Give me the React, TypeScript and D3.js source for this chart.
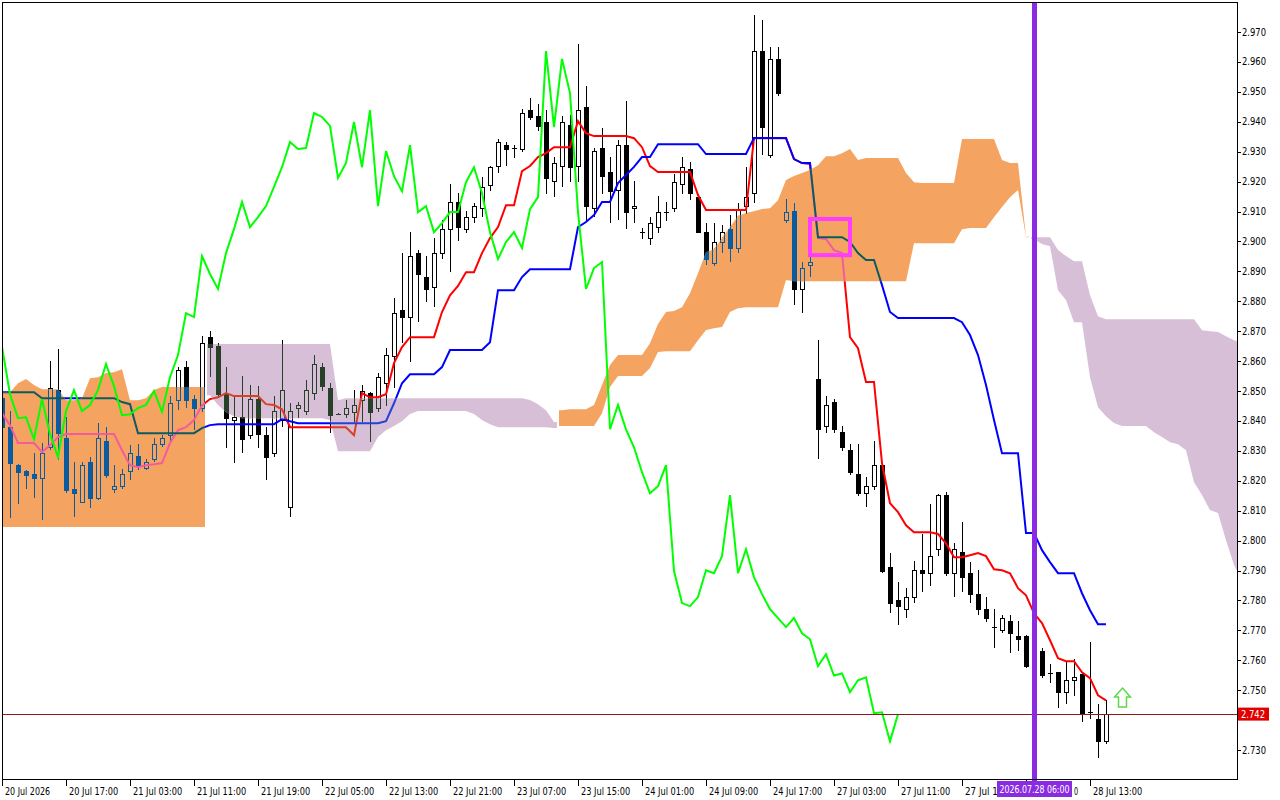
import React from 'react';
import * as d3 from 'd3';

// H1 candles
const opens = [
  2.8476, 2.8379, 2.8252, 2.8232, 2.8222, 2.8209, 2.8312, 2.8503, 2.8342, 2.8172,
  2.8128, 2.8262, 2.8142, 2.8332, 2.8172, 2.8182, 2.8232, 2.8282, 2.8242, 2.8272,
  2.8322, 2.8352, 2.8469, 2.8579, 2.8473, 2.8443, 2.8680, 2.8650, 2.8489, 2.8402,
  2.8412, 2.8352, 2.8473, 2.8352, 2.8292, 2.8402, 2.8112, 2.8443, 2.8433, 2.8493,
  2.8579, 2.8509, 2.8422, 2.8422, 2.8430, 2.8470, 2.8493, 2.8443, 2.8526, 2.8617,
  2.8770, 2.8747, 2.8961, 2.8881, 2.8847, 2.8961, 2.9041, 2.9132, 2.9041, 2.9081,
  2.9112, 2.9188, 2.9252, 2.9322, 2.9312, 2.9309, 2.9439, 2.9419, 2.9399, 2.9202,
  2.9252, 2.9389, 2.9252, 2.9449, 2.9112, 2.9312, 2.9232, 2.9172, 2.9322, 2.9111,
  2.9031, 2.9011, 2.9048, 2.9098, 2.9111, 2.9192, 2.9242, 2.9148, 2.9031, 2.8928,
  2.8998, 2.9041, 2.8978, 2.9118, 2.9162, 2.9636, 2.9289, 2.9610, 2.9071, 2.9101,
  2.8841, 2.8921, 2.8540, 2.8382, 2.8463, 2.8362, 2.8302, 2.8222, 2.8158, 2.8182,
  2.8252, 2.7911, 2.7801, 2.7771, 2.7811, 2.7901, 2.7891, 2.7972, 2.8152, 2.7891,
  2.7961, 2.7891, 2.7821, 2.7771, 2.7711, 2.7701, 2.7730, 2.7680, 2.7680, 2.7590,
  2.7630, 2.7556, 2.7560, 2.7493, 2.7533, 2.7553, 2.7423, 2.7403, 2.7329,
];
const highs = [
  2.8510, 2.8433, 2.8255, 2.8235, 2.8292, 2.8326, 2.8600, 2.8640, 2.8412, 2.8262,
  2.8262, 2.8279, 2.8392, 2.8379, 2.8252, 2.8239, 2.8319, 2.8322, 2.8272, 2.8342,
  2.8352, 2.8482, 2.8579, 2.8600, 2.8486, 2.8683, 2.8700, 2.8660, 2.8579, 2.8479,
  2.8550, 2.8520, 2.8516, 2.8379, 2.8482, 2.8670, 2.8460, 2.8463, 2.8536, 2.8620,
  2.8593, 2.8526, 2.8426, 2.8470, 2.8503, 2.8520, 2.8496, 2.8560, 2.8643, 2.8810,
  2.8961, 2.9031, 2.8971, 2.8951, 2.9011, 2.9071, 2.9192, 2.9162, 2.9101, 2.9128,
  2.9216, 2.9252, 2.9342, 2.9332, 2.9322, 2.9442, 2.9479, 2.9460, 2.9440, 2.9282,
  2.9420, 2.9422, 2.9660, 2.9519, 2.9312, 2.9379, 2.9282, 2.9340, 2.9469, 2.9202,
  2.9045, 2.9081, 2.9152, 2.9132, 2.9225, 2.9282, 2.9265, 2.9160, 2.9061, 2.9061,
  2.9055, 2.9088, 2.9128, 2.9248, 2.9757, 2.9740, 2.9650, 2.9650, 2.9142, 2.9128,
  2.8931, 2.8954, 2.8670, 2.8483, 2.8473, 2.8382, 2.8322, 2.8322, 2.8212, 2.8332,
  2.8260, 2.7958, 2.7861, 2.7841, 2.7931, 2.8021, 2.8122, 2.8155, 2.8162, 2.7991,
  2.8061, 2.7928, 2.7901, 2.7811, 2.7771, 2.7751, 2.7751, 2.7730, 2.7683, 2.7650,
  2.7640, 2.7587, 2.7562, 2.7593, 2.7603, 2.7556, 2.7660, 2.7453, 2.7466,
];
const lows = [
  2.8360, 2.8075, 2.8122, 2.8172, 2.8142, 2.8068, 2.8302, 2.8269, 2.8158, 2.8078,
  2.8125, 2.8108, 2.8135, 2.8209, 2.8158, 2.8172, 2.8202, 2.8235, 2.8235, 2.8262,
  2.8312, 2.8329, 2.8436, 2.8443, 2.8369, 2.8430, 2.8546, 2.8479, 2.8309, 2.8259,
  2.8292, 2.8339, 2.8309, 2.8202, 2.8280, 2.8380, 2.8078, 2.8409, 2.8420, 2.8470,
  2.8500, 2.8359, 2.8419, 2.8410, 2.8396, 2.8396, 2.8330, 2.8430, 2.8450, 2.8510,
  2.8660, 2.8597, 2.8730, 2.8797, 2.8780, 2.8940, 2.8897, 2.9000, 2.9028, 2.9060,
  2.9080, 2.9170, 2.9228, 2.9252, 2.9279, 2.9299, 2.9406, 2.9370, 2.9160, 2.9148,
  2.9182, 2.9199, 2.9200, 2.9068, 2.9081, 2.9158, 2.9061, 2.9070, 2.9041, 2.9061,
  2.9008, 2.8988, 2.9028, 2.9068, 2.9100, 2.9160, 2.9140, 2.9028, 2.8921, 2.8918,
  2.8961, 2.8931, 2.8961, 2.9090, 2.9130, 2.9289, 2.9280, 2.9486, 2.9060, 2.8787,
  2.8760, 2.8880, 2.8272, 2.8360, 2.8360, 2.8299, 2.8219, 2.8148, 2.8112, 2.8170,
  2.7890, 2.7757, 2.7717, 2.7741, 2.7791, 2.7827, 2.7848, 2.7948, 2.7880, 2.7811,
  2.7827, 2.7791, 2.7751, 2.7727, 2.7640, 2.7690, 2.7623, 2.7630, 2.7573, 2.7560,
  2.7540, 2.7523, 2.7440, 2.7453, 2.7480, 2.7393, 2.7403, 2.7273, 2.7320,
];
const closes = [
  2.8379, 2.8259, 2.8229, 2.8219, 2.8209, 2.8292, 2.8509, 2.8359, 2.8169, 2.8158,
  2.8252, 2.8142, 2.8342, 2.8219, 2.8182, 2.8222, 2.8292, 2.8249, 2.8262, 2.8322,
  2.8342, 2.8459, 2.8569, 2.8469, 2.8443, 2.8660, 2.8647, 2.8489, 2.8409, 2.8412,
  2.8339, 2.8473, 2.8356, 2.8279, 2.8433, 2.8503, 2.8433, 2.8453, 2.8503, 2.8590,
  2.8516, 2.8419, 2.8422, 2.8443, 2.8453, 2.8500, 2.8430, 2.8546, 2.8620, 2.8760,
  2.8747, 2.8951, 2.8891, 2.8841, 2.8961, 2.9041, 2.9132, 2.9048, 2.9081, 2.9118,
  2.9182, 2.9248, 2.9332, 2.9309, 2.9312, 2.9429, 2.9416, 2.9386, 2.9212, 2.9262,
  2.9399, 2.9248, 2.9439, 2.9118, 2.9302, 2.9218, 2.9168, 2.9322, 2.9098, 2.9118,
  2.9031, 2.9061, 2.9098, 2.9098, 2.9198, 2.9248, 2.9162, 2.9031, 2.8941, 2.8998,
  2.9031, 2.8978, 2.9108, 2.9148, 2.9636, 2.9382, 2.9610, 2.9496, 2.9098, 2.8841,
  2.8911, 2.8931, 2.8372, 2.8453, 2.8372, 2.8312, 2.8229, 2.8158, 2.8182, 2.8252,
  2.7898, 2.7791, 2.7781, 2.7811, 2.7901, 2.7891, 2.7948, 2.8152, 2.7891, 2.7971,
  2.7878, 2.7821, 2.7771, 2.7741, 2.7711, 2.7741, 2.7690, 2.7670, 2.7580, 2.7620,
  2.7549, 2.7556, 2.7493, 2.7533, 2.7543, 2.7423, 2.7426, 2.7329, 2.7420,
];

// Ichimoku lines
const tenkan = [
  2.8426, 2.8386, 2.8326, 2.8326, 2.8326, 2.8296, 2.8319, 2.8346, 2.8356, 2.8356,
  2.8356, 2.8356, 2.8356, 2.8356, 2.8356, 2.8302, 2.8252, 2.8245, 2.8252, 2.8255,
  2.8259, 2.8326, 2.8369, 2.8379, 2.8403, 2.8452, 2.8473, 2.8479, 2.8493, 2.8483,
  2.8483, 2.8483, 2.8483, 2.8456, 2.8453, 2.8439, 2.8379, 2.8379, 2.8379, 2.8379,
  2.8379, 2.8379, 2.8379, 2.8379, 2.8352, 2.8493, 2.8479, 2.8479, 2.8489, 2.8593,
  2.8647, 2.8680, 2.8680, 2.8680, 2.8680, 2.8764, 2.8820, 2.8851, 2.8897, 2.8897,
  2.8961, 2.9011, 2.9048, 2.9121, 2.9121, 2.9235, 2.9252, 2.9282, 2.9295, 2.9315,
  2.9315, 2.9315, 2.9402, 2.9362, 2.9352, 2.9352, 2.9352, 2.9352, 2.9352, 2.9345,
  2.9315, 2.9252, 2.9232, 2.9232, 2.9232, 2.9232, 2.9232, 2.9155, 2.9105, 2.9105,
  2.9105, 2.9105, 2.9105, 2.9105, 2.9345, 2.9345, 2.9345, 2.9345, 2.9345, 2.9275,
  2.9262, 2.9259, 2.9011, 2.9008, 2.8971, 2.8961, 2.8680, 2.8643, 2.8530, 2.8530,
  2.8259, 2.8125, 2.8095, 2.8051, 2.8028, 2.8028, 2.8028, 2.8022, 2.7991, 2.7944,
  2.7944, 2.7951, 2.7958, 2.7948, 2.7904, 2.7901, 2.7891, 2.7841, 2.7817, 2.7757,
  2.7724, 2.7667, 2.7607, 2.7597, 2.7597, 2.7560, 2.7540, 2.7483, 2.7466,
];
const kijun = [
  2.8496, 2.8496, 2.8496, 2.8496, 2.8496, 2.8476, 2.8476, 2.8476, 2.8476, 2.8476,
  2.8476, 2.8476, 2.8476, 2.8476, 2.8476, 2.8463, 2.8456, 2.8359, 2.8359, 2.8359,
  2.8359, 2.8359, 2.8359, 2.8359, 2.8359, 2.8376, 2.8386, 2.8389, 2.8389, 2.8389,
  2.8389, 2.8389, 2.8389, 2.8389, 2.8389, 2.8406, 2.8399, 2.8392, 2.8392, 2.8392,
  2.8392, 2.8392, 2.8392, 2.8392, 2.8392, 2.8392, 2.8392, 2.8392, 2.8399, 2.8459,
  2.8526, 2.8556, 2.8556, 2.8556, 2.8556, 2.8580, 2.8637, 2.8637, 2.8637, 2.8637,
  2.8637, 2.8663, 2.8837, 2.8837, 2.8837, 2.8881, 2.8907, 2.8907, 2.8907, 2.8907,
  2.8907, 2.8907, 2.9048, 2.9065, 2.9088, 2.9132, 2.9132, 2.9195, 2.9222, 2.9249,
  2.9282, 2.9282, 2.9325, 2.9325, 2.9325, 2.9325, 2.9325, 2.9325, 2.9292, 2.9292,
  2.9292, 2.9292, 2.9292, 2.9292, 2.9346, 2.9346, 2.9346, 2.9346, 2.9346, 2.9275,
  2.9262, 2.9262, 2.9014, 2.9014, 2.9014, 2.9014, 2.8998, 2.8961, 2.8938, 2.8938,
  2.8854, 2.8764, 2.8744, 2.8744, 2.8744, 2.8744, 2.8744, 2.8744, 2.8744, 2.8744,
  2.8730, 2.8687, 2.8620, 2.8520, 2.8403, 2.8292, 2.8292, 2.8292, 2.8025, 2.8025,
  2.7968, 2.7928, 2.7891, 2.7891, 2.7891, 2.7824, 2.7767, 2.7720, 2.7720,
];
// cloud, already shifted forward (one value per bar slot on screen)
const spanA = [
  2.8496, 2.8496, 2.8526, 2.8540, 2.8520, 2.8506, 2.8506, 2.8506, 2.8469, 2.8469,
  2.8476, 2.8543, 2.8546, 2.8560, 2.8563, 2.8573, 2.8469, 2.8469, 2.8476, 2.8503,
  2.8513, 2.8513, 2.8513, 2.8513, 2.8513, 2.8513, 2.8486, 2.8453, 2.8429, 2.8416,
  2.8409, 2.8409, 2.8409, 2.8409, 2.8409, 2.8409, 2.8409, 2.8409, 2.8409, 2.8409,
  2.8409, 2.8403, 2.8299, 2.8299, 2.8299, 2.8299, 2.8299, 2.8346, 2.8369, 2.8383,
  2.8399, 2.8423, 2.8433, 2.8433, 2.8433, 2.8433, 2.8433, 2.8433, 2.8433, 2.8423,
  2.8403, 2.8389, 2.8379, 2.8379, 2.8379, 2.8379, 2.8379, 2.8379, 2.8379, 2.8376,
  2.8436, 2.8439, 2.8439, 2.8439, 2.8453, 2.8520, 2.8587, 2.8620, 2.8620, 2.8620,
  2.8620, 2.8660, 2.8724, 2.8764, 2.8767, 2.8780, 2.8827, 2.8894, 2.8964, 2.8974,
  2.9011, 2.9048, 2.9085, 2.9095, 2.9101, 2.9108, 2.9111, 2.9138, 2.9205, 2.9219,
  2.9229, 2.9239, 2.9255, 2.9285, 2.9285, 2.9295, 2.9309, 2.9272, 2.9279, 2.9279,
  2.9279, 2.9279, 2.9279, 2.9229, 2.9198, 2.9195, 2.9195, 2.9195, 2.9195, 2.9195,
  2.9342, 2.9342, 2.9342, 2.9342, 2.9342, 2.9272, 2.9262, 2.9262, 2.9016, 2.9008,
  2.8991, 2.8984, 2.8837, 2.8804, 2.8730, 2.8730, 2.8546, 2.8446, 2.8416, 2.8393,
  2.8383, 2.8383, 2.8383, 2.8383, 2.8362, 2.8346, 2.8329, 2.8322, 2.8302, 2.8195,
  2.8152, 2.8102, 2.8092, 2.8001, 2.7918, 2.7867,
];
const spanB = [
  2.8045, 2.8045, 2.8045, 2.8045, 2.8045, 2.8045, 2.8045, 2.8045, 2.8045, 2.8045,
  2.8045, 2.8045, 2.8045, 2.8045, 2.8045, 2.8045, 2.8045, 2.8045, 2.8045, 2.8045,
  2.8045, 2.8045, 2.8045, 2.8045, 2.8045, 2.8045, 2.8657, 2.8657, 2.8657, 2.8657,
  2.8657, 2.8657, 2.8657, 2.8657, 2.8657, 2.8657, 2.8657, 2.8657, 2.8657, 2.8657,
  2.8657, 2.8657, 2.8469, 2.8476, 2.8476, 2.8476, 2.8476, 2.8476, 2.8476, 2.8476,
  2.8476, 2.8476, 2.8476, 2.8476, 2.8476, 2.8476, 2.8476, 2.8476, 2.8476, 2.8476,
  2.8476, 2.8476, 2.8476, 2.8476, 2.8476, 2.8476, 2.8470, 2.8456, 2.8436, 2.8396,
  2.8383, 2.8383, 2.8383, 2.8383, 2.8383, 2.8426, 2.8513, 2.8550, 2.8550, 2.8550,
  2.8550, 2.8577, 2.8630, 2.8633, 2.8633, 2.8633, 2.8633, 2.8670, 2.8704, 2.8710,
  2.8714, 2.8764, 2.8777, 2.8780, 2.8780, 2.8780, 2.8780, 2.8780, 2.8871, 2.8867,
  2.8867, 2.8867, 2.8867, 2.8867, 2.8867, 2.8867, 2.8867, 2.8867, 2.8867, 2.8867,
  2.8867, 2.8867, 2.8867, 2.8867, 2.8994, 2.8994, 2.8994, 2.8994, 2.8994, 2.8994,
  2.9041, 2.9045, 2.9045, 2.9045, 2.9081, 2.9115, 2.9148, 2.9172, 2.9014, 2.9014,
  2.9014, 2.9014, 2.8971, 2.8951, 2.8934, 2.8934, 2.8820, 2.8750, 2.8740, 2.8740,
  2.8740, 2.8740, 2.8740, 2.8740, 2.8740, 2.8740, 2.8740, 2.8740, 2.8740, 2.8740,
  2.8703, 2.8700, 2.8697, 2.8683, 2.8670, 2.8660,
];
const chikouShift = 26;

// axis labels (one every 8 bars on the time axis)
const xLabels = [
  '20 Jul 2026', '20 Jul 17:00', '21 Jul 03:00', '21 Jul 11:00', '21 Jul 19:00',
  '22 Jul 05:00', '22 Jul 13:00', '22 Jul 21:00', '23 Jul 07:00', '23 Jul 15:00',
  '24 Jul 01:00', '24 Jul 09:00', '24 Jul 17:00', '27 Jul 03:00', '27 Jul 11:00',
  '27 Jul 19:00', '28 Jul 05:00', '28 Jul 13:00',
];
const xLabelStep = 8;
const yTicks = [2.97, 2.96, 2.95, 2.94, 2.93, 2.92, 2.91, 2.9, 2.89, 2.88, 2.87, 2.86,
  2.85, 2.84, 2.83, 2.82, 2.81, 2.8, 2.79, 2.78, 2.77, 2.76, 2.75, 2.74, 2.73];

// annotations
const lastPrice = 2.742;
const markerBar = 129;
const markerLabel = '2026.07.28 06:00';
const boxBars = [101, 106];
const boxPrices = [2.9075, 2.8954];
const arrowBar = 140;
const arrowPrice = 2.7507;

const frame = { left: 2, right: 1237, top: 2, bottom: 779 };
const font = "'DejaVu Sans Condensed', 'Liberation Sans', sans-serif";
const charW = 4.1;

// the terminal paints the cloud by inverting the pixels under it,
// so candles and lines inside it change colour
const plainInk = { ink: '#000', paper: '#fff', red: '#ff0000', blue: '#0000ff' };
const bullInk = { ink: 'rgb(11,91,159)', paper: '#f4a460', red: 'rgb(244,91,159)', blue: 'rgb(11,91,96)' };
const bearInk = { ink: 'rgb(39,64,39)', paper: '#d8bfd8', red: 'rgb(216,64,39)', blue: 'rgb(39,64,216)' };

const App = () => {
  const x = d3.scaleLinear().domain([0, 154]).range([2, 1234]);
  const y = d3.scaleLinear().domain([2.73, 2.97]).range([750, 32]);

  const line = d3.line<[number, number]>().x(d => x(d[0])).y(d => y(d[1]));
  const tenkanPath = line(tenkan.map((v, i) => [i, v])) || '';
  const kijunPath = line(kijun.map((v, i) => [i, v])) || '';
  const chikouPath = line(closes.slice(chikouShift).map((v, i) => [i, v])) || '';

  // split the cloud into runs of one colour
  const runs: { bull: boolean; idx: number[] }[] = [];
  spanA.forEach((a, j) => {
    const bull = a >= spanB[j];
    const last = runs[runs.length - 1];
    if (last && last.bull === bull) last.idx.push(j);
    else runs.push({ bull, idx: [j] });
  });
  const area = d3.area<{ px: number; a: number; b: number }>()
    .x(d => d.px).y0(d => y(d.a)).y1(d => y(d.b));
  const cloudPaths = runs.map(r => {
    const first = r.idx[0];
    const last = r.idx[r.idx.length - 1];
    const pts = [
      { px: x(first) - 3, a: spanA[first], b: spanB[first] },
      ...r.idx.map(j => ({ px: x(j), a: spanA[j], b: spanB[j] })),
      { px: x(last) + 3, a: spanA[last], b: spanB[last] },
    ];
    return { bull: r.bull, d: area(pts) || '' };
  });

  const drawLayer = (pal: typeof plainInk) => (
    <>
      <g shapeRendering="crispEdges">
        {opens.map((o, i) => {
          const c = closes[i];
          const cx = Math.round(x(i));
          const top = y(Math.max(o, c));
          const bot = y(Math.min(o, c));
          const bull = c > o;
          return (
            <g key={i}>
              <line x1={cx + 0.5} x2={cx + 0.5} y1={y(highs[i])} y2={y(lows[i])} stroke={pal.ink} />
              {bot - top < 1.5 ? (
                <line x1={cx - 2} x2={cx + 3} y1={Math.round(top) + 0.5} y2={Math.round(top) + 0.5} stroke={pal.ink} />
              ) : (
                <rect x={cx - 1.5} y={Math.round(top) + 0.5} width={4} height={Math.round(bot - top)}
                  fill={bull ? pal.paper : pal.ink} stroke={pal.ink} />
              )}
            </g>
          );
        })}
      </g>
      <path d={tenkanPath} fill="none" stroke={pal.red} strokeWidth={2} />
      <path d={kijunPath} fill="none" stroke={pal.blue} strokeWidth={2} />
    </>
  );

  const ax = x(arrowBar) + 0.5;
  const ay = y(arrowPrice);
  const arrow = `M${ax},${ay} L${ax + 8},${ay + 9} L${ax + 4},${ay + 9} L${ax + 4},${ay + 19} L${ax - 4},${ay + 19} L${ax - 4},${ay + 9} L${ax - 8},${ay + 9} Z`;
  const mx = x(markerBar);
  const markerW = 75;
  const markerL = mx - 37;
  const markerR = markerL + markerW;

  // time labels: the part hidden under the marker label is cut away
  const timeLabels = xLabels.map((lab, k) => {
    const tx = Math.round(x(k * xLabelStep));
    const start = tx + 3;
    const end = start + lab.length * charW;
    let text = lab;
    let tx0 = start;
    if (start < markerL && end > markerL) {
      text = lab.slice(0, Math.floor((markerL - start + 1) / charW));
    } else if (start >= markerL && start < markerR) {
      const from = Math.ceil((markerR - start) / charW);
      text = lab.slice(from);
      tx0 = start + from * charW;
    }
    return { tx, text, tx0 };
  });

  return (
    <svg width={1280} height={800} style={{ position: 'absolute', left: 0, top: 0 }}>
      <defs>
        <clipPath id="plot">
          <rect x={frame.left} y={frame.top} width={frame.right - frame.left} height={frame.bottom - frame.top} />
        </clipPath>
        <clipPath id="cloudBull">
          {cloudPaths.filter(p => p.bull).map((p, k) => <path key={k} d={p.d} />)}
        </clipPath>
        <clipPath id="cloudBear">
          {cloudPaths.filter(p => !p.bull).map((p, k) => <path key={k} d={p.d} />)}
        </clipPath>
      </defs>
      <rect width={1280} height={800} fill="#fff" />

      <g clipPath="url(#plot)">
        {drawLayer(plainInk)}

        {cloudPaths.map((p, k) => (
          <path key={k} d={p.d} fill={p.bull ? bullInk.paper : bearInk.paper} />
        ))}
        <g clipPath="url(#cloudBull)">{drawLayer(bullInk)}</g>
        <g clipPath="url(#cloudBear)">{drawLayer(bearInk)}</g>

        <path d={chikouPath} fill="none" stroke="#00ff00" strokeWidth={2} />

        <line x1={frame.left} x2={frame.right} y1={Math.round(y(lastPrice)) + 0.5} y2={Math.round(y(lastPrice)) + 0.5}
          stroke="#8c1a1a" strokeWidth={1} />

        <rect x={x(boxBars[0])} y={y(boxPrices[0])} width={x(boxBars[1]) - x(boxBars[0])}
          height={y(boxPrices[1]) - y(boxPrices[0])} fill="none" stroke="#ff3cff" strokeWidth={4} />

        <path d={arrow} fill="#fff" stroke="#5cd84a" strokeWidth={1.5} />
      </g>

      <line x1={mx + 0.5} x2={mx + 0.5} y1={frame.top} y2={frame.bottom + 3} stroke="#8a2be2" strokeWidth={5} />

      {/* frame */}
      <rect x={frame.left + 0.5} y={frame.top + 0.5} width={frame.right - frame.left} height={frame.bottom - frame.top}
        fill="none" stroke="#000" shapeRendering="crispEdges" />

      {/* price axis */}
      <g fontFamily={font} fontSize={10} fill="#000">
        {yTicks.filter(t => Math.abs(t - lastPrice) > 0.004).map(t => (
          <g key={t}>
            <line x1={frame.right} x2={frame.right + 4} y1={Math.round(y(t)) + 0.5} y2={Math.round(y(t)) + 0.5}
              stroke="#000" shapeRendering="crispEdges" />
            <text x={frame.right + 5} y={y(t) + 3.5} textLength={24} lengthAdjust="spacingAndGlyphs">{t.toFixed(3)}</text>
          </g>
        ))}
      </g>
      <rect x={frame.right + 1} y={y(lastPrice) - 6.5} width={31} height={13} fill="#e00000" />
      <text x={frame.right + 4} y={y(lastPrice) + 3.5} fontFamily={font} fontSize={10} fill="#fff"
        textLength={24} lengthAdjust="spacingAndGlyphs">{lastPrice.toFixed(3)}</text>

      {/* time axis */}
      <g fontFamily={font} fontSize={10} fill="#000">
        {timeLabels.map((t, k) => (
          <g key={k}>
            <line x1={t.tx + 0.5} x2={t.tx + 0.5} y1={frame.bottom} y2={frame.bottom + 7} stroke="#000" shapeRendering="crispEdges" />
            {t.text.length > 0 && (
              <text x={t.tx0} y={frame.bottom + 16} textLength={t.text.length * charW} lengthAdjust="spacingAndGlyphs">{t.text}</text>
            )}
          </g>
        ))}
      </g>
      <rect x={markerL} y={frame.bottom + 2} width={markerW} height={16} fill="#8a2be2" />
      <text x={mx + 0.5} y={frame.bottom + 14} textAnchor="middle" fontFamily={font} fontSize={10} fill="#fff"
        textLength={70} lengthAdjust="spacingAndGlyphs">{markerLabel}</text>
    </svg>
  );
};

export default App;
